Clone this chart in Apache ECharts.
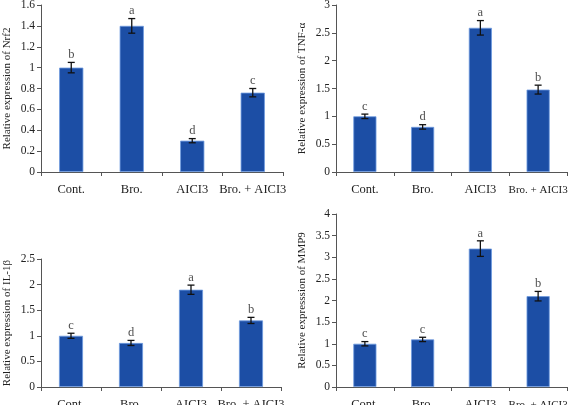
<!DOCTYPE html>
<html><head><meta charset="utf-8">
<script src="https://cdn.jsdelivr.net/npm/echarts@6/dist/echarts.min.js"></script>
<style>html,body{margin:0;padding:0;background:#fff}#c{width:568px;height:405px}</style>
</head><body><div id="c"></div>
<script>
const categories = ['Cont.', 'Bro.', 'AICI3', 'Bro. + AICI3'];

const nrf2 = [1.0, 1.4, 0.3, 0.76];
const nrf2Err = [0.05, 0.07, 0.02, 0.04];
const nrf2Letters = ['b', 'a', 'd', 'c'];

const tnf = [1.0, 0.81, 2.59, 1.48];
const tnfErr = [0.04, 0.04, 0.13, 0.08];
const tnfLetters = ['c', 'd', 'a', 'b'];

const il1b = [1.0, 0.86, 1.9, 1.3];
const il1bErr = [0.05, 0.05, 0.09, 0.06];
const il1bLetters = ['c', 'd', 'a', 'b'];

const mmp9 = [1.0, 1.1, 3.2, 2.1];
const mmp9Err = [0.05, 0.05, 0.18, 0.11];
const mmp9Letters = ['c', 'c', 'a', 'b'];

const yTitles = ['Relative expression of Nrf2', 'Relative expression of TNF-\u03b1', 'Relative expression of IL-1\u03b2', 'Relative expresssion of MMP9'];
const yMax = [1.6, 3, 2.5, 4];
const yInterval = [0.2, 0.5, 0.5, 0.5];

const panels = [
  {v: nrf2, e: nrf2Err, l: nrf2Letters},
  {v: tnf, e: tnfErr, l: tnfLetters},
  {v: il1b, e: il1bErr, l: il1bLetters},
  {v: mmp9, e: mmp9Err, l: mmp9Letters}
];

const grids = [
  {left: 41, top: 5, width: 242, height: 167},
  {left: 336, top: 5, width: 231, height: 167},
  {left: 41, top: 259, width: 240, height: 128},
  {left: 336, top: 214, width: 231, height: 173}
].map(g => Object.assign(g, {containLabel: false, outerBoundsMode: 'none'}));
const nameGaps = [28, 28, 28, 28];
const lastLabelSize = [12.5, 11, 12.5, 11];

const font = '"Liberation Serif", "DejaVu Serif", serif';
const axisColor = '#555';
const textColor = '#222';

const xAxes = [], yAxes = [], series = [];
panels.forEach((p, i) => {
  xAxes.push({
    type: 'category', gridIndex: i, data: categories,
    axisLine: {lineStyle: {color: axisColor, width: 1}},
    axisTick: {show: true, length: 4, lineStyle: {color: axisColor}},
    axisLabel: {color: textColor, fontFamily: font, fontSize: 12.5, lineHeight: 14, margin: 11, interval: 0,
      formatter: (v, idx) => '{' + (idx === categories.length - 1 ? 's' : 'n') + '|' + v + '}',
      rich: {
        n: {fontFamily: font, fontSize: 12.5, lineHeight: 14, color: textColor},
        s: {fontFamily: font, fontSize: lastLabelSize[i], lineHeight: 14, color: textColor}
      }}
  });
  yAxes.push({
    type: 'value', gridIndex: i, min: 0, max: yMax[i], interval: yInterval[i],
    name: yTitles[i], nameLocation: 'middle', nameGap: nameGaps[i],
    nameTextStyle: {color: textColor, fontFamily: font, fontSize: 11},
    axisLine: {show: true, lineStyle: {color: axisColor, width: 1}},
    axisTick: {show: true, length: 4, lineStyle: {color: axisColor}},
    splitLine: {show: false},
    axisLabel: {color: textColor, fontFamily: font, fontSize: 11.5, margin: 6}
  });
  series.push({
    type: 'bar', xAxisIndex: i, yAxisIndex: i, data: p.v, barWidth: '40%',
    itemStyle: {color: '#1c4ea5', borderColor: '#6f9ae0', borderWidth: 0.8},
    silent: true
  });
  series.push({
    type: 'custom', xAxisIndex: i, yAxisIndex: i,
    data: p.v.map((v, k) => [k, v - p.e[k], v + p.e[k]]),
    renderItem: function (params, api) {
      const x = api.value(0);
      const lo = api.coord([x, api.value(1)]);
      const hi = api.coord([x, api.value(2)]);
      const w = 3.5;
      const st = {stroke: '#111', lineWidth: 1.3};
      return {type: 'group', children: [
        {type: 'line', shape: {x1: lo[0], y1: lo[1], x2: hi[0], y2: hi[1]}, style: st},
        {type: 'line', shape: {x1: lo[0] - w, y1: lo[1], x2: lo[0] + w, y2: lo[1]}, style: st},
        {type: 'line', shape: {x1: hi[0] - w, y1: hi[1], x2: hi[0] + w, y2: hi[1]}, style: st}
      ]};
    },
    z: 5, silent: true
  });
  series.push({
    type: 'scatter', xAxisIndex: i, yAxisIndex: i, symbolSize: 0,
    data: p.v.map((v, k) => [k, v + p.e[k]]),
    label: {show: true, position: 'top', distance: 1,
      formatter: (d) => p.l[d.dataIndex],
      color: textColor, fontFamily: font, fontSize: 12.5},
    silent: true
  });
});

const chart = echarts.init(document.getElementById('c'), null, {renderer: 'canvas'});
chart.setOption({
  animation: false,
  backgroundColor: '#fff',
  grid: grids,
  xAxis: xAxes,
  yAxis: yAxes,
  series: series
});
</script>
</body></html>
